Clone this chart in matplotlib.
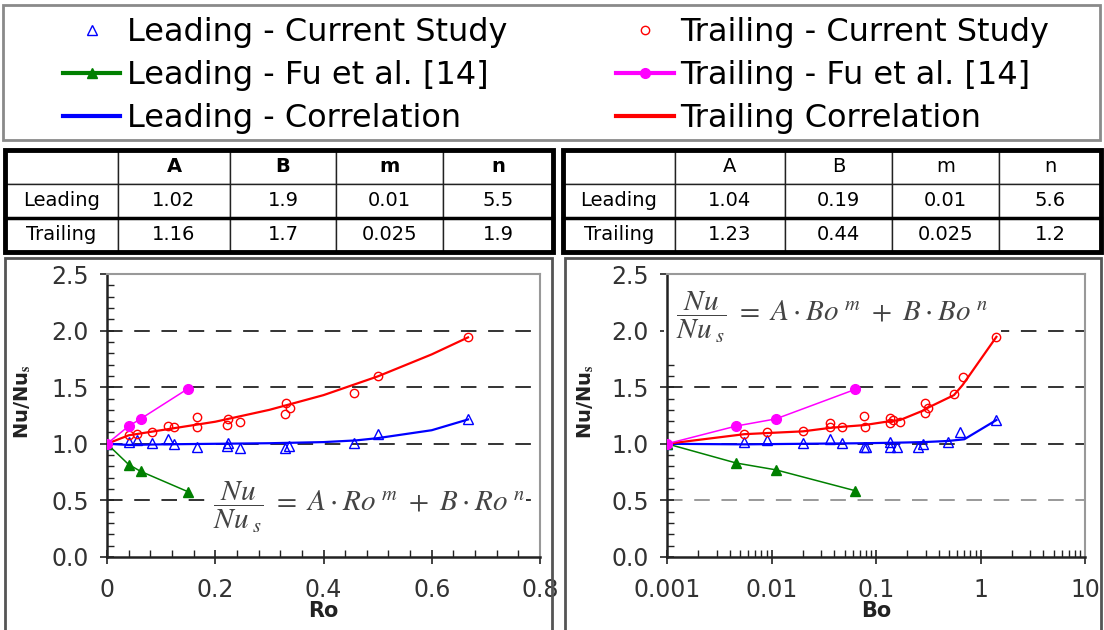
import matplotlib
matplotlib.use('Agg')
import matplotlib.pyplot as plt
from matplotlib.patches import Rectangle
from matplotlib.ticker import (MultipleLocator, FixedLocator, FixedFormatter,
                               LogLocator, NullFormatter, FormatStrFormatter)

plt.rcParams['font.family'] = ['DejaVu Sans']
plt.rcParams['mathtext.fontset'] = 'stix'

W, H = 1104, 630

# ---- left panel: Nu/Nus against Ro ----
ro_lead = [0, 0.041, 0.055, 0.083, 0.113, 0.123, 0.166, 0.221, 0.224, 0.246, 0.329, 0.336, 0.457, 0.50, 0.667]
nu_ro_lead = [1.0, 1.02, 1.03, 1.01, 1.04, 1.0, 0.97, 0.98, 1.01, 0.96, 0.96, 0.98, 1.01, 1.09, 1.215]
ro_trail = [0, 0.041, 0.055, 0.083, 0.113, 0.123, 0.166, 0.166, 0.221, 0.224, 0.246, 0.329, 0.331, 0.339, 0.457, 0.50, 0.667]
nu_ro_trail = [1.0, 1.078, 1.09, 1.107, 1.157, 1.146, 1.24, 1.146, 1.166, 1.216, 1.195, 1.26, 1.358, 1.32, 1.445, 1.595, 1.94]
ro_fu = [0, 0.04, 0.062, 0.149]
nu_ro_fu_lead = [1.0, 0.817, 0.757, 0.578]
nu_ro_fu_trail = [1.0, 1.156, 1.22, 1.485]
ro_corr = [0, 0.04, 0.1, 0.2, 0.3, 0.4, 0.46, 0.5, 0.6, 0.667]
nu_ro_corr_lead = [1.0, 0.99, 0.995, 1.0, 1.005, 1.015, 1.03, 1.05, 1.12, 1.215]
ro_corr_t = [0, 0.04, 0.1, 0.2, 0.3, 0.4, 0.5, 0.6, 0.667]
nu_ro_corr_trail = [1.0, 1.075, 1.12, 1.195, 1.30, 1.43, 1.595, 1.79, 1.94]

# ---- right panel: Nu/Nus against Bo ----
bo_lead = [0.001, 0.0055, 0.0091, 0.020, 0.036, 0.047, 0.077, 0.08, 0.137, 0.137, 0.16, 0.254, 0.284, 0.49, 0.637, 1.42]
nu_bo_lead = [1.0, 1.02, 1.03, 1.01, 1.04, 1.01, 0.975, 0.975, 1.02, 0.97, 0.975, 0.975, 1.0, 1.02, 1.10, 1.21]
bo_trail = [0.001, 0.0055, 0.0091, 0.0201, 0.0363, 0.0363, 0.047, 0.0767, 0.078, 0.136, 0.136, 0.146, 0.170, 0.294, 0.294, 0.316, 0.557, 0.675, 1.42]
nu_bo_trail = [1.0, 1.09, 1.10, 1.116, 1.186, 1.146, 1.146, 1.245, 1.151, 1.225, 1.18, 1.21, 1.195, 1.363, 1.27, 1.32, 1.44, 1.587, 1.946]
bo_fu = [0.001, 0.0046, 0.011, 0.063]
nu_bo_fu_lead = [1.0, 0.83, 0.77, 0.586]
nu_bo_fu_trail = [1.0, 1.157, 1.22, 1.48]
bo_corr_l = [0.001, 0.0055, 0.02, 0.077, 0.16, 0.284, 0.49, 0.7, 1.42]
nu_bo_corr_lead = [1.0, 0.995, 1.0, 1.005, 1.01, 1.015, 1.025, 1.04, 1.21]
bo_corr_t = [0.001, 0.0055, 0.0091, 0.02, 0.036, 0.047, 0.077, 0.136, 0.17, 0.294, 0.316, 0.557, 0.675, 1.42]
nu_bo_corr_trail = [1.0, 1.085, 1.095, 1.11, 1.14, 1.15, 1.165, 1.2, 1.21, 1.30, 1.32, 1.43, 1.52, 1.945]

# ---- correlation coefficient tables ----
tab_cols = ['', 'A', 'B', 'm', 'n']
tab_rows = ['Leading', 'Trailing']
ro_lead_coef = ['1.02', '1.9', '0.01', '5.5']
ro_trail_coef = ['1.16', '1.7', '0.025', '1.9']
bo_lead_coef = ['1.04', '0.19', '0.01', '5.6']
bo_trail_coef = ['1.23', '0.44', '0.025', '1.2']

ref_levels = [0.5, 1.0, 1.5, 2.0]
bo_ticks = [0.001, 0.01, 0.1, 1, 10]
bo_ticklabels = ['0.001', '0.01', '0.1', '1', '10']

legend_labels = ['Leading - Current Study', 'Leading - Fu et al. [14]', 'Leading - Correlation',
                 'Trailing - Current Study', 'Trailing - Fu et al. [14]', 'Trailing Correlation']


def fbox(x0, y0, x1, y1):
    # pixel box (top-left origin) -> figure fraction [left, bottom, width, height]
    return [x0 / W, 1 - y1 / H, (x1 - x0) / W, (y1 - y0) / H]


fig = plt.figure(figsize=(W / 100, H / 100), dpi=100)

# frames around legend and plot panels
for (x0, y0, x1, y1), ec in [((3, 5, 1100, 140), '#8a8a8a'),
                             ((5, 258, 552, 640), '#555555'),
                             ((565, 258, 1101, 640), '#555555')]:
    l, b, w, h = fbox(x0, y0, x1, y1)
    fig.add_artist(Rectangle((l, b), w, h, transform=fig.transFigure,
                             fill=False, ec=ec, lw=2))


def draw_table(box, lead, trail, bold_head, widths):
    ax_t = fig.add_axes(fbox(*box))
    ax_t.axis('off')
    cells = [tab_cols, [tab_rows[0]] + lead, [tab_rows[1]] + trail]
    tbl = ax_t.table(cellText=cells, bbox=[0, 0, 1, 1], colWidths=widths, cellLoc='center')
    tbl.auto_set_font_size(False)
    tbl.set_fontsize(14)
    for (r, c), cell in tbl.get_celld().items():
        cell.set_linewidth(1.0)
        cell.set_edgecolor('#222222')
        if r == 0 and bold_head:
            cell.get_text().set_fontweight('bold')
    ax_t.plot([0, 1], [1 / 3, 1 / 3], transform=ax_t.transAxes, color='black', lw=2.5, clip_on=False)
    ax_t.add_patch(Rectangle((0, 0), 1, 1, transform=ax_t.transAxes, fill=False,
                             ec='black', lw=3.5, clip_on=False))


draw_table((5, 150, 553, 252), ro_lead_coef, ro_trail_coef, True, [113, 112, 106, 107, 110])
draw_table((563, 150, 1101, 252), bo_lead_coef, bo_trail_coef, False, [112, 110, 107, 107, 102])


def setup(ax, xlabel, level_colors):
    ax.set_ylim(0, 2.5)
    ax.yaxis.set_major_locator(MultipleLocator(0.5))
    ax.yaxis.set_minor_locator(MultipleLocator(0.1))
    ax.yaxis.set_major_formatter(FormatStrFormatter('%.1f'))
    ax.tick_params(which='major', direction='inout', length=10, width=1.2,
                   color='#222222', labelcolor='#333333', labelsize=17, pad=8)
    ax.tick_params(which='minor', direction='in', length=5, width=1.0, color='#222222')
    ax.tick_params(axis='x', which='major', pad=10)
    for s in ['top', 'right']:
        ax.spines[s].set_color('#999999')
        ax.spines[s].set_linewidth(1.5)
    for s in ['left', 'bottom']:
        ax.spines[s].set_color('#222222')
        ax.spines[s].set_linewidth(1.8)
    for lv, c in zip(ref_levels, level_colors):
        ax.axhline(lv, color=c, lw=1.4, dashes=(8, 6), zorder=1)
    ax.set_xlabel(xlabel, fontsize=15, fontweight='bold', color='#222222')
    ax.set_ylabel('Nu/Nu$_\\mathbf{s}$', fontsize=14, fontweight='bold', color='#222222')
    ax.xaxis.set_label_coords(0.5, -0.155)
    ax.yaxis.set_label_coords(-0.17, 0.55)
    ax.set_facecolor('white')


def draw_series(ax, xl, yl, xt, yt, xf, yfl, yft, xcl, ycl, xct, yct):
    h = {}
    h['lc'], = ax.plot(xcl, ycl, color='blue', lw=1.6, zorder=3)
    h['tc'], = ax.plot(xct, yct, color='red', lw=1.6, zorder=3)
    h['lp'], = ax.plot(xl, yl, ls='none', marker='^', ms=7, mfc='none', mec='blue', mew=1.0, zorder=4)
    h['tp'], = ax.plot(xt, yt, ls='none', marker='o', ms=6, mfc='none', mec='red', mew=1.0, zorder=4)
    h['lf'], = ax.plot(xf, yfl, color='green', lw=1.1, marker='^', ms=7, zorder=5)
    h['tf'], = ax.plot(xf, yft, color='magenta', lw=1.1, marker='o', ms=7, zorder=5)
    return h


def eq_style(pad):
    # white box hides the dashed reference line behind the equation,
    # but stays under the data lines and the axes spines
    return dict(ha='center', va='center', fontsize=21, color='#444444',
                bbox=dict(fc='white', ec='none', pad=pad), zorder=2)


# left plot
ax1 = fig.add_axes(fbox(107, 274, 540, 557))
setup(ax1, 'Ro', ['#333333'] * 4)
ax1.set_xlim(0, 0.8)
ax1.xaxis.set_minor_locator(MultipleLocator(0.04))
ax1.xaxis.set_major_locator(FixedLocator([0, 0.2, 0.4, 0.6, 0.8]))
ax1.xaxis.set_major_formatter(FixedFormatter(['0', '0.2', '0.4', '0.6', '0.8']))
hd = draw_series(ax1, ro_lead, nu_ro_lead, ro_trail, nu_ro_trail, ro_fu, nu_ro_fu_lead, nu_ro_fu_trail,
                 ro_corr, nu_ro_corr_lead, ro_corr_t, nu_ro_corr_trail)
ax1.text(0.484, 0.44, r'$\dfrac{Nu}{Nu_{\ s}}\ =\ A\cdot Ro^{\ m}\ +\ B\cdot Ro^{\ n}$', **eq_style(1))

# right plot
ax2 = fig.add_axes(fbox(667, 274, 1085, 557))
setup(ax2, 'Bo', ['#999999', '#333333', '#333333', '#333333'])
ax2.set_xscale('log')
ax2.set_xlim(0.001, 10)
ax2.xaxis.set_major_locator(FixedLocator(bo_ticks))
ax2.xaxis.set_major_formatter(FixedFormatter(bo_ticklabels))
ax2.xaxis.set_minor_locator(LogLocator(base=10, subs=range(2, 10)))
ax2.xaxis.set_minor_formatter(NullFormatter())
draw_series(ax2, bo_lead, nu_bo_lead, bo_trail, nu_bo_trail, bo_fu, nu_bo_fu_lead, nu_bo_fu_trail,
            bo_corr_l, nu_bo_corr_lead, bo_corr_t, nu_bo_corr_trail)
ax2.text(0.395, 0.845, r'$\dfrac{Nu}{Nu_{\ s}}\ =\ A\cdot Bo^{\ m}\ +\ B\cdot Bo^{\ n}$',
         transform=ax2.transAxes, **eq_style(9))

# legend in the top box
handles = [hd['lp'], hd['lf'], hd['lc'], hd['tp'], hd['tf'], hd['tc']]
leg = fig.legend(handles, legend_labels, ncol=2, loc='upper left',
                 bbox_to_anchor=(63 / W, 1 - 17 / H), frameon=False, fontsize=23,
                 handlelength=1.8, handletextpad=0.2, columnspacing=3.4,
                 labelspacing=0.38, borderpad=0, borderaxespad=0, numpoints=1)
for ln in leg.get_lines():
    if ln.get_linestyle() != 'None':
        ln.set_linewidth(3)

fig.savefig('out.png', dpi=100)
